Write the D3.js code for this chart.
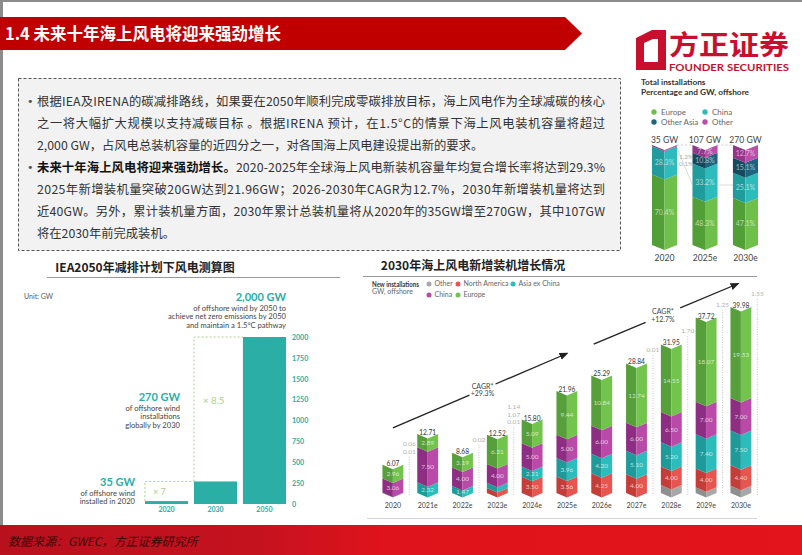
<!DOCTYPE html>
<html>
<head>
  <meta charset="utf-8">
  <title>1.4 未来十年海上风电将迎来强劲增长</title>
  <script src="https://d3js.org/d3.v7.min.js"></script>
  <style>
    body { margin: 0; background: #fff; }
    svg { display: block; }
    .cn { font-family: "Noto Sans CJK SC", sans-serif; }
    .en { font-family: Lato, "Noto Sans", sans-serif; }
  </style>
</head>
<body>
<svg id="slide"></svg>
<script>
  // ---------- data ----------
  const slideTitle = "1.4 未来十年海上风电将迎来强劲增长"
  const bodyLines = [
    "根据IEA及IRENA的碳减排路线，如果要在2050年顺利完成零碳排放目标，海上风电作为全球减碳的核心",
    "之一将大幅扩大规模以支持减碳目标 。根据IRENA  预计，在1.5°C的情景下海上风电装机容量将超过",
    "2,000 GW，占风电总装机容量的近四分之一，对各国海上风电建设提出新的要求。",
    "2020-2025年全球海上风电新装机容量年均复合增长率将达到29.3%",
    "2025年新增装机量突破20GW达到21.96GW；2026-2030年CAGR为12.7%，2030年新增装机量将达到",
    "近40GW。另外，累计装机量方面，2030年累计总装机量将从2020年的35GW增至270GW，其中107GW",
    "将在2030年前完成装机。"
  ]
  const boldLead = "未来十年海上风电将迎来强劲增长。"

  // left chart: IEA 2050
  const ieaYears = ["2020", "2030", "2050"]
  const ieaValues = [35, 270, 2000]
  const ieaTicks = [0, 250, 500, 750, 1000, 1250, 1500, 1750, 2000]

  // right chart: new installations, GW
  const newYears = ["2020", "2021e", "2022e", "2023e", "2024e", "2025e", "2026e", "2027e", "2028e", "2029e", "2030e"]
  const newEurope = [2.96, 2.89, 3.19, 6.31, 5.09, 9.44, 10.84, 12.74, 14.55, 18.07, 19.53]
  const newChina = [3.06, 7.50, 4.00, 4.00, 5.00, 5.00, 6.00, 6.00, 6.50, 7.00, 7.00]
  const newAsiaExChina = [0.06, 2.32, 1.47, 1.14, 2.21, 3.96, 4.20, 5.10, 5.20, 7.40, 7.50]
  const newNorthAmerica = [0.01, 0, 0, 1.07, 3.50, 3.56, 4.25, 4.00, 4.00, 4.00, 4.40]
  const newOther = [0, 0, 0.02, 0.01, 0, 0, 0, 0.01, 1.70, 1.25, 1.55]
  const newTotals = [6.07, 12.71, 8.68, 12.52, 15.80, 21.96, 25.29, 28.84, 31.95, 37.72, 39.98]

  // top right: total installations share, %
  const shareYears = ["2020", "2025e", "2030e"]
  const shareTotals = ["35 GW", "107 GW", "270 GW"]
  const shareEurope = [70.4, 48.3, 47.1]
  const shareChina = [28.3, 33.2, 25.1]
  const shareOtherAsia = [0.1, 10.8, 15.1]
  const shareOther = [1.2, 7.7, 12.7]

  // ---------- page ----------
  const svg = d3.select("#slide").attr("width", 802).attr("height", 555)
  svg.append("rect").attr("width", 802).attr("height", 555).attr("fill", "#fff")
  svg.append("rect").attr("width", 802).attr("height", 2).attr("fill", "#8c8c8c")
  svg.append("rect").attr("width", 3).attr("height", 525).attr("fill", "#8c8c8c")

  // title banner
  svg.append("path").attr("d", "M0,17 H565 L582,33.5 L565,50 H0 Z").attr("fill", "#c00000")
  svg.append("text").attr("class", "cn").attr("x", 5).attr("y", 39.5)
    .attr("fill", "#fff").attr("font-size", 16.5).attr("font-weight", 700).text(slideTitle)

  // logo
  const logo = svg.append("g")
  logo.append("path").attr("d", "M636,38 L652,30 L666,30 L666,70 L636,70 Z M644,43 L644,62 L658,62 L658,39 L653,39 Z")
    .attr("fill", "#c8102e").attr("fill-rule", "evenodd")
  logo.append("text").attr("class", "cn").attr("x", 669).attr("y", 55)
    .attr("font-size", 27).attr("font-weight", 700).attr("fill", "#c8102e")
    .attr("textLength", 120).attr("lengthAdjust", "spacingAndGlyphs").text("方正证券")
  logo.append("text").attr("class", "en").attr("x", 669).attr("y", 71)
    .attr("font-size", 9.5).attr("font-weight", 700).attr("fill", "#c8102e")
    .attr("textLength", 120).attr("lengthAdjust", "spacingAndGlyphs").text("FOUNDER SECURITIES")

  // text box
  svg.append("rect").attr("x", 18.5).attr("y", 78.5).attr("width", 602).attr("height", 172)
    .attr("fill", "#f2f2f2").attr("stroke", "#555").attr("stroke-dasharray", "3,2")
  const rowY = [101, 123, 145, 167, 189, 211, 233]
  const justified = [0, 1, 3, 4, 5]
  bodyLines.forEach((line, i) => {
    const t = svg.append("text").attr("class", "cn").attr("x", 37).attr("y", rowY[i] + 4.5)
      .attr("font-size", 12.3).attr("fill", "#333")
    if (justified.includes(i)) t.attr("textLength", 568).attr("lengthAdjust", "spacing")
    if (i == 3) t.append("tspan").attr("font-weight", 700).attr("fill", "#111").text(boldLead)
    t.append("tspan").text(line)
    if (i == 0 || i == 3) {
      svg.append("text").attr("x", 27).attr("y", rowY[i] + 4).attr("font-size", 11)
        .attr("fill", "#555").attr("font-family", "DejaVu Sans").text("•")
    }
  })

  // ---------- top right: share chart ----------
  const shareKeys = ["europe", "china", "otherAsia", "other"]
  const shareColors = {
    europe: ["#529f38", "#6fc04a"], china: ["#1f9c9b", "#2dbcbb"],
    otherAsia: ["#14495e", "#1c6480"], other: ["#92368a", "#bb4eaa"]
  }
  const shareRows = shareYears.map((y, i) => ({
    year: y, europe: shareEurope[i], china: shareChina[i], otherAsia: shareOtherAsia[i], other: shareOther[i]
  }))
  const sx = d3.scaleBand().domain(shareYears).range([652, 758]).paddingInner(0.38)
  const sy = d3.scaleLinear().domain([0, 100]).range([245, 145])
  const sNotch = 5

  const tr = svg.append("g")
  tr.append("text").attr("class", "en").attr("x", 641).attr("y", 84.5).attr("font-size", 8.3)
    .attr("font-weight", 700).attr("fill", "#333").text("Total installations")
  tr.append("text").attr("class", "en").attr("x", 641).attr("y", 94.5).attr("font-size", 8.3)
    .attr("font-weight", 700).attr("fill", "#333").text("Percentage and GW, offshore")
  const shareLegend = [
    ["Europe", "europe", 654, 112], ["China", "china", 705, 112],
    ["Other Asia", "otherAsia", 654, 122], ["Other", "other", 705, 122]
  ]
  shareLegend.forEach(([label, key, cx, cy]) => {
    tr.append("circle").attr("cx", cx).attr("cy", cy).attr("r", 2.7).attr("fill", shareColors[key][1])
    tr.append("text").attr("class", "en").attr("x", cx + 7).attr("y", cy + 2.8)
      .attr("font-size", 8).attr("fill", "#666").text(label)
  })

  // faint guide lines
  tr.append("line").attr("x1", sx("2020") + sx.bandwidth()).attr("x2", sx("2025e"))
    .attr("y1", sy(100)).attr("y2", sy(100)).attr("stroke", "#ccc").attr("stroke-dasharray", "2,2")
  tr.append("line").attr("x1", sx("2025e") + sx.bandwidth()).attr("x2", sx("2030e"))
    .attr("y1", sy(100)).attr("y2", sy(100)).attr("stroke", "#ccc").attr("stroke-dasharray", "2,2")
  tr.append("line").attr("x1", sx("2020") + sx.bandwidth()).attr("x2", sx("2025e"))
    .attr("y1", sy(97)).attr("y2", sy(60)).attr("stroke", "#ccc").attr("stroke-width", 0.7)
  tr.append("line").attr("x1", sx("2025e") + sx.bandwidth()).attr("x2", sx("2030e"))
    .attr("y1", sy(60)).attr("y2", sy(60)).attr("stroke", "#ccc").attr("stroke-width", 0.7)

  const shareStack = d3.stack().keys(shareKeys)(shareRows)
  shareStack.forEach(layer => {
    layer.forEach(d => {
      if (d[1] - d[0] <= 0) return
      drawChevron(tr, sx(d.data.year), sx.bandwidth(), sy(d[0]), sy(d[1]), sNotch, shareColors[layer.key])
      const cx = sx(d.data.year) + sx.bandwidth() / 2
      if (d[1] - d[0] >= 3) {
        tr.append("text").attr("class", "en").attr("x", cx).attr("y", (sy(d[0]) + sy(d[1])) / 2 + sNotch / 2 + 2.4)
          .attr("text-anchor", "middle").attr("font-size", 7).attr("fill", "#fff").attr("fill-opacity", 0.6)
          .text(d3.format(".1f")(d[1] - d[0]) + "%")
      }
    })
  })
  // small side labels
  shareRows.forEach(r => {
    const small = shareKeys.slice().reverse().filter(k => r[k] > 0 && r[k] < 3)
    small.forEach((k, j) => {
      tr.append("text").attr("class", "en").attr("x", sx(r.year) + sx.bandwidth() + 9).attr("y", sy(100) + 14 + j * 7)
        .attr("text-anchor", "middle").attr("font-size", 6.5).attr("fill", "#aaa").text(d3.format(".1f")(r[k]) + "%")
    })
  })
  shareYears.forEach((y, i) => {
    const cx = sx(y) + sx.bandwidth() / 2
    tr.append("text").attr("class", "en").attr("x", cx).attr("y", 143).attr("text-anchor", "middle")
      .attr("font-size", 8.6).attr("fill", "#444").text(shareTotals[i])
    tr.append("text").attr("class", "en").attr("x", cx).attr("y", 260.5).attr("text-anchor", "middle")
      .attr("font-size", 8.6).attr("fill", "#444").text(y)
  })

  // ---------- left chart ----------
  const lc = svg.append("g")
  lc.append("text").attr("class", "cn").attr("x", 145).attr("y", 272).attr("text-anchor", "middle")
    .attr("font-size", 12).attr("font-weight", 700).attr("fill", "#222").text("IEA2050年减排计划下风电测算图")
  lc.append("line").attr("x1", 47).attr("x2", 340).attr("y1", 277.5).attr("y2", 277.5).attr("stroke", "#999")
  lc.append("text").attr("class", "en").attr("x", 24).attr("y", 299).attr("font-size", 7)
    .attr("fill", "#555").text("Unit: GW")

  const ix = d3.scaleBand().domain(ieaYears).range([145, 286]).paddingInner(0.12)
  const iy = d3.scaleLinear().domain([0, 2000]).range([504, 337])
  const teal = "#2aaea5"

  // dotted multiplication guides
  const guide = d3.line()
  lc.append("path").attr("d", guide([[ix("2020"), iy(35)], [ix("2020"), iy(270)], [ix("2030"), iy(270)]]))
    .attr("fill", "none").attr("stroke", "#a9d08a").attr("stroke-dasharray", "2,2")
  lc.append("path").attr("d", guide([[ix("2030"), iy(270)], [ix("2030"), iy(2000)], [ix("2050"), iy(2000)]]))
    .attr("fill", "none").attr("stroke", "#a9d08a").attr("stroke-dasharray", "2,2")
  lc.append("text").attr("class", "en").attr("x", ix("2020") + 8).attr("y", 495).attr("font-size", 9)
    .attr("fill", "#a9d08a").text("× 7")
  lc.append("text").attr("class", "en").attr("x", ix("2030") + 9).attr("y", 404).attr("font-size", 9.5)
    .attr("fill", "#a9d08a").text("× 8.5")

  lc.selectAll("rect.iea").data(ieaYears).join("rect").attr("class", "iea")
    .attr("x", d => ix(d)).attr("width", ix.bandwidth())
    .attr("y", (d, i) => iy(ieaValues[i])).attr("height", (d, i) => iy(0) - iy(ieaValues[i]))
    .attr("fill", teal)

  const iAxisY = lc.append("g").attr("transform", "translate(292,0)")
    .call(d3.axisRight(iy).tickValues(ieaTicks).tickSize(0).tickPadding(0).tickFormat(d3.format("d")))
  iAxisY.select(".domain").remove()
  iAxisY.selectAll("text").attr("class", "en").attr("font-size", 7).attr("font-weight", 700).attr("fill", teal)

  const iAxisX = lc.append("g").attr("transform", "translate(0,505)")
    .call(d3.axisBottom(ix).tickSize(0).tickPadding(2))
  iAxisX.select(".domain").remove()
  iAxisX.selectAll("text").attr("class", "en").attr("font-size", 7).attr("font-weight", 700).attr("fill", teal)

  const notes = [
    [286, 301, "2,000 GW", ["of offshore wind by 2050 to", "achieve net zero emissions by 2050", "and maintain a 1.5°C pathway"]],
    [180, 401, "270 GW", ["of offshore wind", "installations", "globally by 2030"]],
    [135, 486, "35 GW", ["of offshore wind", "installed in 2020"]]
  ]
  notes.forEach(([x, y, head, lines]) => {
    lc.append("text").attr("class", "en").attr("x", x).attr("y", y).attr("text-anchor", "end")
      .attr("font-size", 11).attr("font-weight", 700).attr("fill", teal).text(head)
    lines.forEach((l, j) => {
      lc.append("text").attr("class", "en").attr("x", x).attr("y", y + 9.5 + j * 8.7).attr("text-anchor", "end")
        .attr("font-size", 7.6).attr("fill", "#444").text(l)
    })
  })

  // ---------- right chart ----------
  const rc = svg.append("g")
  rc.append("text").attr("class", "cn").attr("x", 473).attr("y", 269.5).attr("text-anchor", "middle")
    .attr("font-size", 12).attr("font-weight", 700).attr("fill", "#222").text("2030年海上风电新增装机增长情况")
  rc.append("line").attr("x1", 363).attr("x2", 757).attr("y1", 276.5).attr("y2", 276.5).attr("stroke", "#999")
  rc.append("line").attr("x1", 367).attr("x2", 757).attr("y1", 518.5).attr("y2", 518.5).attr("stroke", "#d6cfe0")

  const newKeys = ["other", "northAmerica", "asiaExChina", "china", "europe"]
  const newColors = {
    other: ["#8f8f8f", "#a8a8a8"], northAmerica: ["#c43d39", "#e6554f"],
    asiaExChina: ["#1d9a99", "#2bbcbb"], china: ["#8e2e82", "#b94aa8"], europe: ["#579f3a", "#73c44d"]
  }
  const newRows = newYears.map((y, i) => ({
    year: y, other: newOther[i], northAmerica: newNorthAmerica[i], asiaExChina: newAsiaExChina[i],
    china: newChina[i], europe: newEurope[i]
  }))

  rc.append("text").attr("class", "en").attr("x", 372).attr("y", 286.5).attr("font-size", 7)
    .attr("font-weight", 700).attr("fill", "#333")
    .attr("textLength", 47).attr("lengthAdjust", "spacingAndGlyphs").text("New installations")
  rc.append("text").attr("class", "en").attr("x", 372).attr("y", 294).attr("font-size", 7)
    .attr("fill", "#666").text("GW, offshore")
  const newLegend = [
    ["Other", "other", 429, 284], ["North America", "northAmerica", 458, 284], ["Asia ex China", "asiaExChina", 513, 284],
    ["China", "china", 429, 295], ["Europe", "europe", 458, 295]
  ]
  newLegend.forEach(([label, key, cx, cy]) => {
    rc.append("circle").attr("cx", cx).attr("cy", cy).attr("r", 2.5).attr("fill", newColors[key][1])
    rc.append("text").attr("class", "en").attr("x", cx + 5.5).attr("y", cy + 2.4)
      .attr("font-size", 7).attr("fill", "#666").text(label)
  })

  const nx = d3.scaleBand().domain(newYears).range([375.5, 758.3]).paddingInner(0.4).paddingOuter(0.2)
  const ny = d3.scaleLinear().domain([0, 40]).range([493, 307])
  const nNotch = 4.5

  const newStack = d3.stack().keys(newKeys)(newRows)
  newStack.forEach(layer => {
    layer.forEach(d => {
      const v = d[1] - d[0]
      if (v <= 0) return
      drawChevron(rc, nx(d.data.year), nx.bandwidth(), ny(d[0]), ny(d[1]), nNotch, newColors[layer.key])
      if (layer.key != "other" && v >= 1.4) {
        rc.append("text").attr("class", "en").attr("x", nx(d.data.year) + nx.bandwidth() / 2)
          .attr("y", (ny(d[0]) + ny(d[1])) / 2 + nNotch / 2 + 2.3).attr("text-anchor", "middle")
          .attr("font-size", 6.5).attr("fill", "#fff").attr("fill-opacity", 0.7).text(d3.format(".2f")(v))
      }
    })
  })

  newRows.forEach((r, i) => {
    const x0 = nx(r.year), x1 = x0 + nx.bandwidth()
    const top = ny(d3.sum(newKeys, k => r[k]))
    rc.append("text").attr("class", "en").attr("x", (x0 + x1) / 2).attr("y", top + 1)
      .attr("text-anchor", "middle").attr("font-size", 6.6).attr("fill", "#333").text(d3.format(".2f")(newTotals[i]))
    // small values beside the bar
    const small = newKeys.slice().reverse().filter(k => r[k] > 0 && (k == "other" || r[k] < 1.4))
    if (small.length) {
      const lx = x1 + 6
      const lowest = top - 11
      small.slice().reverse().forEach((k, j) => {
        rc.append("text").attr("class", "en").attr("x", lx).attr("y", lowest - j * 7.2)
          .attr("text-anchor", "middle").attr("font-size", 6.5).attr("fill", "#b0b0b0").text(d3.format(".2f")(r[k]))
      })
      rc.append("line").attr("x1", lx).attr("x2", lx).attr("y1", lowest + 3).attr("y2", ny(0) + 2)
        .attr("stroke", "#c4c4c4").attr("stroke-dasharray", "1,1.5")
    }
  })

  const nAxis = rc.append("g").attr("transform", "translate(0,501)")
    .call(d3.axisBottom(nx).tickSize(0).tickPadding(2))
  nAxis.select(".domain").remove()
  nAxis.selectAll("text").attr("class", "en").attr("font-size", 7).attr("fill", "#444")

  // CAGR arrows
  svg.append("defs").append("marker").attr("id", "arrow").attr("viewBox", "0 0 10 10")
    .attr("refX", 8).attr("refY", 5).attr("markerWidth", 7).attr("markerHeight", 7)
    .attr("orient", "auto").append("path").attr("d", "M0,1 L10,5 L0,9 Z").attr("fill", "#222")
  const cagr = [
    ["2020", 0, 14, "2025e", 0, 30, 0.44, 0.59, "+29.3%"],
    ["2026e", -8, 32, "2030e", -3, 45, 0.36, 0.6, "+12.7%"]
  ]
  cagr.forEach(([ya, dxa, va, yb, dxb, vb, g0, g1, label]) => {
    const ax = nx(ya) + nx.bandwidth() / 2 + dxa, ay = ny(va)
    const bx = nx(yb) + nx.bandwidth() / 2 + dxb, by = ny(vb)
    const p = t => [ax + (bx - ax) * t, ay + (by - ay) * t]
    rc.append("path").attr("d", guide([p(0), p(g0)])).attr("stroke", "#222").attr("stroke-width", 1.3)
    rc.append("path").attr("d", guide([p(g1), p(1)])).attr("stroke", "#222").attr("stroke-width", 1.3)
      .attr("marker-end", "url(#arrow)")
    const m = p((g0 + g1) / 2)
    rc.append("text").attr("class", "en").attr("x", m[0]).attr("y", m[1] - 1).attr("text-anchor", "middle")
      .attr("font-size", 7).attr("fill", "#444").text("CAGR*")
    rc.append("text").attr("class", "en").attr("x", m[0]).attr("y", m[1] + 6.5).attr("text-anchor", "middle")
      .attr("font-size", 7).attr("fill", "#444").text(label)
  })

  // ---------- footer ----------
  const grad = svg.select("defs").append("linearGradient").attr("id", "foot")
  grad.append("stop").attr("offset", "0").attr("stop-color", "#b8111d")
  grad.append("stop").attr("offset", "0.32").attr("stop-color", "#c5121f")
  grad.append("stop").attr("offset", "0.48").attr("stop-color", "#df131b")
  grad.append("stop").attr("offset", "1").attr("stop-color", "#e3141b")
  svg.append("rect").attr("x", 0).attr("y", 525).attr("width", 802).attr("height", 30).attr("fill", "url(#foot)")
  svg.append("text").attr("class", "cn").attr("x", 8).attr("y", 545.5).attr("font-size", 12)
    .attr("font-style", "italic").attr("fill", "#3a0606").text("数据来源：GWEC，方正证券研究所")

  // folded bar segment: darker left half, lighter right half, V-shaped edges
  function drawChevron(g, x, w, yBottom, yTop, notch, colors) {
    const cx = x + w / 2
    g.append("polygon")
      .attr("points", [[x, yTop], [cx, yTop + notch], [cx, yBottom + notch], [x, yBottom]].join(" "))
      .attr("fill", colors[0])
    g.append("polygon")
      .attr("points", [[cx, yTop + notch], [x + w, yTop], [x + w, yBottom], [cx, yBottom + notch]].join(" "))
      .attr("fill", colors[1])
  }
</script>
</body>
</html>
